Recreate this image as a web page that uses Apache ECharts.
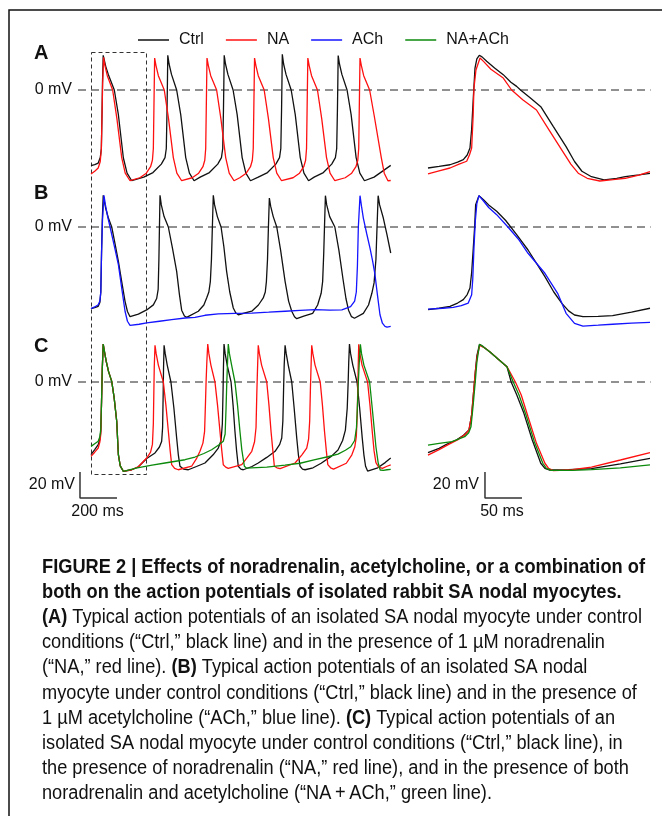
<!DOCTYPE html>
<html><head><meta charset="utf-8">
<script src="https://cdn.jsdelivr.net/npm/echarts@6/dist/echarts.min.js"></script>
<style>html,body{margin:0;padding:0;background:#fff}#c{width:662px;height:816px}</style>
</head><body><div id="c"></div>
<script>
// ---------------- DATA (time in ms, membrane potential in mV) ----------------
const legendNames = ['Ctrl', 'NA', 'ACh', 'NA+ACh'];

// Panel A, long recording
const a_ctrl_left = [[0,-58.2],[20,-57.4],[39,-56.2],[50,-52],[56,-45],[60,-15],[62,5],[66,26.7],
[80,18],[94,11.8],[126,0],[148,-19],[175,-52.3],[195,-64],[220,-69.8],
[285,-67],[335,-63.5],[380,-57],[400,-52],[407,-45],[411,-15],[413,5],[415,26.7],
[422,20],[435,12],[463,0],[485,-19],[512,-52],[532,-64],[557,-69.8],
[590,-67],[640,-63.5],[685,-57],[705,-52],[712,-45],[716,-15],[718,5],[720,26.7],
[727,20],[740,12],[768,0],[790,-19],[817,-52],[837,-64],[862,-69.8],
[904,-67],[954,-63.5],[999,-57],[1019,-52],[1026,-45],[1030,-15],[1032,5],[1034,27.5],
[1041,20],[1054,12],[1082,0],[1104,-19],[1131,-52],[1151,-64],[1176,-69.8],
[1206,-67],[1256,-63.5],[1301,-57],[1321,-52],[1328,-45],[1332,-15],[1334,5],[1336,26.5],
[1343,20],[1356,12],[1384,0],[1406,-19],[1433,-52],[1453,-64],[1478,-69.8],
[1530,-67],[1580,-62],[1620,-58]];
const a_na_left = [[0,-64.6],[20,-62.5],[39,-60],[50,-55],[56,-45],[60,-15],[63,5],[68,25.2],
[75,19],[88,11],[117,0],[140,-22],[166,-52],[185,-64],[211,-69.8],
[264,-67.5],[299,-64],[322,-59],[332,-54],[337,-45],[340,-15],[342,5],[344,24.6],
[351,19],[364,11],[396,0],[419,-22],[445,-52],[464,-64],[490,-69.8],
[547,-67.5],[582,-64],[605,-59],[615,-54],[620,-45],[623,-15],[625,5],[627,24.6],
[634,19],[647,11],[679,0],[702,-22],[728,-52],[747,-64],[773,-69.8],
[804,-67.5],[839,-64],[862,-59],[872,-54],[877,-45],[880,-15],[882,5],[884,24.6],
[891,19],[904,11],[936,0],[959,-22],[985,-52],[1004,-64],[1030,-69.8],
[1092,-67.5],[1127,-64],[1150,-59],[1160,-54],[1165,-45],[1168,-15],[1170,5],[1172,24.6],
[1179,19],[1192,11],[1224,0],[1247,-22],[1273,-52],[1292,-64],[1318,-69.8],
[1374,-67.5],[1409,-64],[1432,-59],[1442,-54],[1447,-45],[1450,-15],[1452,5],[1454,24.6],
[1461,19],[1474,11],[1506,0],[1531,-20],[1569,-52],[1585,-64],[1605,-69.8],[1620,-69.6]];
// Panel A, single action potential
const a_ctrl_right = [[0,-60],[15,-58.8],[29.7,-57.5],[40,-55.5],[47.7,-53.6],[53,-50],[56.7,-44.6],[59,-30],[61.2,-6.2],[63.5,16.9],[66,24],[69.3,26.7],[73,25.5],[79.3,22.1],[90,17],[101.7,11.8],[112,6],[119.8,2.8],[125,0],[138,-6],[152.4,-12.8],[169.4,-28.2],[186.6,-43.6],[198,-55],[208,-62.5],[220.9,-66.7],[237.9,-69.2],[255,-68],[266.6,-66.7],[285,-65.3],[300,-64.1]];
const a_na_right = [[0,-64.6],[15,-62.2],[29.7,-60],[42,-57],[52.3,-54.8],[56,-50],[59,-44.6],[61,-20],[62.1,1.5],[64.8,15.4],[70.3,24.6],[75,22],[85,16],[101.7,9.2],[113,0],[128,-7.5],[146.6,-15.4],[163.7,-30.8],[180.9,-46.2],[193,-57],[203,-64],[215.1,-67.9],[232.2,-70],[250,-69],[266.6,-67.9],[285,-65.5],[300,-62.8]];

// Panel B, long recording
const b_ctrl_left = [[0,-62.8],[20,-62],[39,-61],[48,-58],[53,-50],[57,-20],[61,5],[66,24.4],
[80,14],[94,6.9],[112,0],[130,-13],[148,-26.4],[166,-42],[184,-57.2],[197,-65],[211,-69],
[256,-67],[301,-63.8],[337,-59.9],[355,-55],[363,-48],[367,-25],[370,0],[373,24.4],
[380,17],[395,8],[418,0],[440,-16],[463,-34.1],[478,-52],[490,-64],[505,-68.5],[517,-69.5],
[580,-64.8],[610,-60],[625,-54.6],[637,-50],[645,-42],[651,-25],[656,0],[661,24.4],
[668,17],[683,8],[703,0],[718,-15],[733,-34.1],[750,-50],[769,-62.3],[782,-66],[796,-67.5],
[869,-64.8],[905,-60],[931,-54.6],[942,-50],[948,-42],[954,-25],[959,0],[964,22.3],
[971,16],[985,8],[1004,0],[1025,-18],[1049,-41.8],[1068,-57],[1085,-64.8],[1100,-69],[1112,-70.5],
[1150,-68.5],[1198,-66.4],[1225,-60],[1244,-51],[1252,-42],[1258,-20],[1262,0],[1267,24.1],
[1274,17],[1290,8],[1318,0],[1340,-18],[1362,-40],[1378,-55],[1392,-64],[1408,-69],[1424,-70.2],
[1472,-66.4],[1500,-60],[1518,-51],[1530,-43],[1540,-25],[1546,0],[1552,24.1],
[1560,17],[1580,6.9],[1600,-6],[1620,-20]];
const b_ach_left = [[0,-62.8],[20,-61.5],[39,-59.8],[48,-57],[53,-50],[57,-20],[62,5],[70,24.4],
[78,17],[90,8],[103,0],[125,-14],[148,-29],[166,-47],[184,-64.8],[197,-72.5],[211,-75.6],
[260,-74.8],[301,-73.8],[370,-72.5],[436,-71.3],[509,-70],[562,-69.5],[616,-67.9],[688,-66.9],[780,-66.5],[869,-66.2],[960,-65.5],[1049,-64.8],[1130,-64.2],[1211,-63.6],[1290,-64],[1356,-63.8],[1403,-61.3],
[1425,-57],[1434,-50],[1440,-30],[1445,0],[1454,24.1],
[1462,16],[1472,6.9],[1490,-5],[1508,-16.2],[1522,-26],[1535,-36.7],[1548,-52],[1562,-67.5],[1575,-74],[1589,-76.4],[1600,-77],[1620,-76.5]];
// Panel B, single action potential
const b_ctrl_right = [[0,-63.6],[15,-62.5],[29.7,-61],[40,-58.5],[47.7,-55.9],[53,-52],[56.7,-46.9],[59,-35],[61.2,-16.2],[63,0],[64.4,17.2],[68.9,24.1],[75,21],[82,17],[92.8,12.1],[105,5],[119.8,-5.9],[135.2,-17.7],[158,-38.2],[170,-50],[180.9,-58.7],[190,-64.5],[198,-67.7],[209.4,-69],[230,-68.8],[249.4,-68.2],[275,-65.5],[300,-62.5]];
const b_ach_right = [[0,-63.1],[20,-62.5],[34.2,-61.8],[45,-60.5],[54.4,-58.5],[59,-52.1],[60.5,-40],[62.1,-16.2],[64,5],[66,18],[68.9,24.1],[75,20],[82,15],[92.8,9.5],[108,0],[122,-9.2],[135.2,-20.2],[158,-35.6],[175.2,-51],[186.6,-66.4],[198,-74.1],[209.4,-76.2],[230,-75.5],[249.4,-74.8],[275,-74],[300,-73.3]];

// Panel C, long recording
const c_ctrl_left = [[0,-55.9],[20,-52],[39,-48.2],[48,-44],[53,-38],[57,-15],[61,10],[66,29.2],
[72,24],[82,16],[95,8],[112,0.5],[125,-12],[139,-30.2],[148,-55.9],[158,-64.5],[175,-68.7],
[220,-67.5],[256,-65.2],[301,-58.8],[346,-54.6],[370,-50],[382,-45.6],[387,-35],[390,-10],[392,10],[395,28.2],
[401,22],[412,13],[432,0],[448,-20],[463,-43.1],[472,-56],[481,-64.8],[500,-67],[526,-67.5],
[570,-65],[616,-62.3],[660,-56],[688,-50.8],[703,-45],[710,-32],[714,-5],[716,12],[719,29.2],
[725,22],[736,13],[757,0],[768,-18],[778,-37.9],[787,-53],[796,-64.8],[810,-67],[823,-67.5],
[870,-65],[904,-62.3],[950,-58],[995,-53.3],[1020,-48],[1031,-43.1],[1037,-30],[1041,-5],[1044,12],[1049,28.2],
[1055,22],[1066,13],[1085,0],[1098,-20],[1112,-43.1],[1121,-56],[1130,-64.8],[1143,-67],[1157,-67.5],
[1200,-66],[1244,-62.5],[1300,-57],[1335,-52.3],[1360,-45],[1375,-37],[1385,-20],[1390,0],[1393,15],[1397,29.2],
[1403,22],[1415,13],[1438,0],[1452,-20],[1466,-43],[1475,-56],[1484,-64.8],[1495,-68.5],[1505,-69],
[1550,-66],[1590,-62],[1620,-58.5]];
const c_na_left = [[0,-57.2],[20,-54],[39,-50.8],[48,-46],[53,-40],[57,-15],[61,10],[66,29.2],
[72,24],[82,16],[95,8],[112,0.5],[125,-12],[139,-30.2],[148,-55.9],[158,-64.5],[175,-68.7],
[220,-67.5],[256,-65.2],[301,-58.5],[322,-54],[332,-48],[337,-32],[340,-5],[342,12],[346,28.2],
[352,22],[364,13],[391,0],[405,-18],[418,-37.9],[428,-53],[436,-63.6],[452,-66.5],[472,-67.5],
[544,-64.8],[570,-59],[589,-53.3],[605,-47],[614,-38],[619,-15],[622,0],[626,15],[631,29.2],
[637,22],[648,13],[670,0],[684,-18],[697,-37.9],[707,-53],[715,-63.6],[728,-65.5],[742,-66.4],
[815,-63.6],[845,-58],[869,-53.3],[884,-46],[892,-35],[896,-10],[899,5],[904,28.2],
[910,22],[922,13],[950,0],[962,-18],[973,-37.9],[983,-53],[991,-64.8],[1005,-66],[1022,-66.7],
[1103,-62.3],[1140,-56],[1166,-50.8],[1176,-44],[1182,-30],[1186,-5],[1189,10],[1193,28.2],
[1199,22],[1211,13],[1239,0],[1251,-18],[1262,-37.9],[1272,-53],[1280,-63.6],[1295,-66],[1311,-67],
[1380,-62.5],[1410,-56],[1426,-49.8],[1434,-42],[1439,-25],[1442,-5],[1444,10],[1447,29],
[1453,22],[1465,13],[1495,0],[1508,-18],[1520,-37.9],[1530,-53],[1540,-62],[1555,-65.5],[1575,-66.4],[1600,-64.8],[1620,-63.8]];
const c_nach_left = [[0,-49.5],[20,-47.5],[39,-45.6],[48,-42],[53,-36],[57,-15],[61,10],[66,29.2],
[72,24],[82,16],[95,8],[112,0.5],[125,-12],[139,-30.2],[148,-55.9],[158,-64.5],[175,-68.7],
[250,-66],[330,-64],[400,-62.3],[508,-59.8],[562,-57.7],[610,-55],[652,-52.1],[690,-48.5],[715,-45.6],[725,-40],[730,-20],[734,0],[738,15],[742,29.2],
[748,22],[760,13],[778,0],[792,-18],[805,-37.9],[815,-52],[829,-64.8],[840,-66.2],[850,-66.7],
[950,-65.5],[1049,-64],[1130,-62.5],[1211,-59.8],[1280,-57.5],[1335,-55.5],[1375,-52.5],[1404,-49.8],[1425,-45],[1435,-35],[1441,-15],[1445,0],[1450,15],[1456,29],
[1462,22],[1475,13],[1506,0],[1520,-20],[1540,-49.8],[1552,-62],[1563,-67.7],[1580,-68],[1600,-67.5],[1620,-67.2]];
// Panel C, single action potential
const c_ctrl_right = [[0,-54.4],[15,-51],[25,-48],[38.2,-44.6],[48,-41],[55.4,-36.9],[59,-25],[62,-5],[63.9,7.7],[66,20],[69.6,29],[75,27],[83.8,23.1],[95,17.5],[106.7,11.8],[112.4,0],[120,-10],[129.6,-24.1],[140.9,-44.6],[152.4,-62.5],[158,-66.5],[163.7,-67.7],[190,-67.5],[220.9,-66.7],[260,-63],[300,-58.7]];
const c_na_right = [[0,-56.2],[15,-52],[28,-48],[41.1,-44.1],[50,-40.5],[55.4,-36.9],[59,-25],[62,-5],[64,8],[66.5,20],[70,28.2],[76,26.5],[83.8,23.1],[95,17.5],[106.7,11.8],[118.1,0],[126,-10],[135.2,-26.7],[146.6,-47.2],[158,-62.5],[163,-66.5],[169.4,-68.2],[195,-67.5],[220.9,-65.4],[260,-60],[300,-54.4]];
const c_nach_right = [[0,-48.5],[15,-47.2],[32.5,-45.9],[49.6,-42.1],[55,-39],[58.1,-34.4],[61,-18],[63.9,0.5],[66,15],[69.6,29],[75,27],[83.8,23.1],[95,17.5],[106.7,11.8],[115.2,0],[123,-10],[132.4,-25.4],[143.7,-45.9],[155.2,-62.5],[160,-66.5],[166.6,-68],[195,-68],[220.9,-67.4],[260,-66],[300,-63.8]];

// Scale bars (ms, mV)
const scaleBarTime = [200, 50];
const scaleBarVolt = 20;

// Caption
const captionLines = [
  'FIGURE 2 | Effects of noradrenalin, acetylcholine, or a combination of',
  'both on the action potentials of isolated rabbit SA nodal myocytes.',
  '{b|(A)} Typical action potentials of an isolated SA nodal myocyte under control',
  'conditions (\u201cCtrl,\u201d black line) and in the presence of 1 \u00b5M noradrenalin',
  '(\u201cNA,\u201d red line). {b|(B)} Typical action potentials of an isolated SA nodal',
  'myocyte under control conditions (\u201cCtrl,\u201d black line) and in the presence of',
  '1 \u00b5M acetylcholine (\u201cACh,\u201d blue line). {b|(C)} Typical action potentials of an',
  'isolated SA nodal myocyte under control conditions (\u201cCtrl,\u201d black line), in',
  'the presence of noradrenalin (\u201cNA,\u201d red line), and in the presence of both',
  'noradrenalin and acetylcholine (\u201cNA\u2009+\u2009ACh,\u201d green line).'
];

// ---------------- LAYOUT ----------------
const FONT = '"Liberation Sans", Arial, Helvetica, sans-serif';
const COL = {Ctrl: '#111111', NA: '#ff1010', ACh: '#1414ff', 'NA+ACh': '#0c8a0c'};
const LEFT_MIN = -100, LEFT_MAX = 1620, RIGHT_MAX = 300, YMIN = -80, YMAX = 35;
const PX_PER_MV = 1.3, PX_PER_MS_L = 1 / 5.405, PX_PER_MS_R = 0.74;
const panelZeroY = [90, 227, 382];
const H = (YMAX - YMIN) * PX_PER_MV;
const grids = [], xAxes = [], yAxes = [];
function addGrid(left, top, width, xmin, xmax) {
  grids.push({left: left, top: top, width: width, height: H});
  xAxes.push({type: 'value', min: xmin, max: xmax, show: false, gridIndex: grids.length - 1});
  yAxes.push({type: 'value', min: YMIN, max: YMAX, show: false, gridIndex: grids.length - 1});
  return grids.length - 1;
}
const panels = [];
panelZeroY.forEach(function (z) {
  const top = z - YMAX * PX_PER_MV;
  panels.push({
    left: addGrid(91 + LEFT_MIN * PX_PER_MS_L, top, (LEFT_MAX - LEFT_MIN) * PX_PER_MS_L, LEFT_MIN, LEFT_MAX),
    right: addGrid(428, top, RIGHT_MAX * PX_PER_MS_R, 0, RIGHT_MAX),
    zero: addGrid(78, top, 572.6, 0, 1)
  });
});

const series = [];
function trace(name, data, g) {
  series.push({type: 'line', name: name, data: data, xAxisIndex: g, yAxisIndex: g,
    symbol: 'none', showSymbol: false, silent: true, animation: false,
    lineStyle: {color: COL[name], width: 1.3}, itemStyle: {color: COL[name]}});
}
panels.forEach(function (p) {
  series.push({type: 'line', data: [[0, 0], [1, 0]], xAxisIndex: p.zero, yAxisIndex: p.zero,
    symbol: 'none', silent: true, animation: false,
    lineStyle: {color: '#222', width: 1, type: [8, 5]}});
});
trace('Ctrl', a_ctrl_left, panels[0].left); trace('NA', a_na_left, panels[0].left);
trace('Ctrl', a_ctrl_right, panels[0].right); trace('NA', a_na_right, panels[0].right);
trace('Ctrl', b_ctrl_left, panels[1].left); trace('ACh', b_ach_left, panels[1].left);
trace('Ctrl', b_ctrl_right, panels[1].right); trace('ACh', b_ach_right, panels[1].right);
trace('Ctrl', c_ctrl_left, panels[2].left); trace('NA', c_na_left, panels[2].left); trace('NA+ACh', c_nach_left, panels[2].left);
trace('Ctrl', c_ctrl_right, panels[2].right); trace('NA', c_na_right, panels[2].right); trace('NA+ACh', c_nach_right, panels[2].right);

// scale bars drawn in panel C data space
const sbStartMv = -69.2;
[[panels[2].left, -59.5, scaleBarTime[0]], [panels[2].right, 77, scaleBarTime[1]]].forEach(function (s) {
  series.push({type: 'line', xAxisIndex: s[0], yAxisIndex: s[0], clip: false, symbol: 'none', silent: true, animation: false,
    data: [[s[1], sbStartMv], [s[1], sbStartMv - scaleBarVolt], [s[1] + s[2], sbStartMv - scaleBarVolt]],
    lineStyle: {color: '#333', width: 1.5}});
});

// caption text scaling to mimic condensed face
const CAP_SIZE = 20;
const ctx = document.createElement('canvas').getContext('2d');
function measure(line, boldAll) {
  const re = /\{b\|([^}]*)\}/g; let w = 0, last = 0, m;
  const reg = (boldAll ? 'bold ' : '') + CAP_SIZE + 'px ' + FONT, bold = 'bold ' + CAP_SIZE + 'px ' + FONT;
  while ((m = re.exec(line))) {
    ctx.font = reg; w += ctx.measureText(line.slice(last, m.index)).width;
    ctx.font = bold; w += ctx.measureText(m[1]).width; last = re.lastIndex;
  }
  ctx.font = reg; w += ctx.measureText(line.slice(last)).width;
  return w;
}
const sBold = 603 / measure(captionLines[0], true);
const sReg = 600 / measure(captionLines[2], false);

const graphic = [
  {type: 'rect', shape: {x: 9, y: 10, width: 720, height: 900}, style: {fill: 'none', stroke: '#111', lineWidth: 1.5}, silent: true},
  {type: 'rect', shape: {x: 91.5, y: 52.5, width: 55, height: 422}, style: {fill: 'none', stroke: '#333', lineWidth: 1, lineDash: [4, 3]}, silent: true}
];
function txt(x, y, s, opt) {
  graphic.push({type: 'text', x: x, y: y, silent: true, style: Object.assign({text: s, fill: '#111', fontSize: 16, fontFamily: FONT, verticalAlign: 'middle', align: 'left'}, opt || {})});
}
['A', 'B', 'C'].forEach(function (l, i) { txt(34, [53, 193, 346][i], l, {fontWeight: 'bold', fontSize: 20}); });
panelZeroY.forEach(function (z) { txt(72, z, '0 mV', {align: 'right'}); });
txt(75, 485, '20 mV', {align: 'right'});
txt(97.5, 512, '200 ms', {align: 'center'});
txt(479, 485, '20 mV', {align: 'right'});
txt(502, 512, '50 ms', {align: 'center'});
captionLines.forEach(function (line, i) {
  const bold = i < 2;
  graphic.push({type: 'text', x: 42, y: 567 + i * 25.2, scaleX: bold ? sBold : sReg, silent: true,
    style: {text: line, fill: '#111', fontSize: CAP_SIZE, fontFamily: FONT, fontWeight: bold ? 'bold' : 'normal', verticalAlign: 'middle',
      rich: {b: {fontWeight: 'bold', fontSize: CAP_SIZE, fontFamily: FONT, fill: '#111'}}}});
});

const chart = echarts.init(document.getElementById('c'), null, {renderer: 'canvas'});
chart.setOption({
  animation: false,
  backgroundColor: '#fff',
  legend: {data: legendNames, left: 133, top: 27, icon: 'rect', itemWidth: 31, itemHeight: 1.5, itemGap: 22,
    textStyle: {fontSize: 16, fontFamily: FONT, color: '#111', padding: [0, 0, 0, 5]}, selectedMode: false},
  grid: grids, xAxis: xAxes, yAxis: yAxes, series: series, graphic: graphic
});
</script></body></html>
